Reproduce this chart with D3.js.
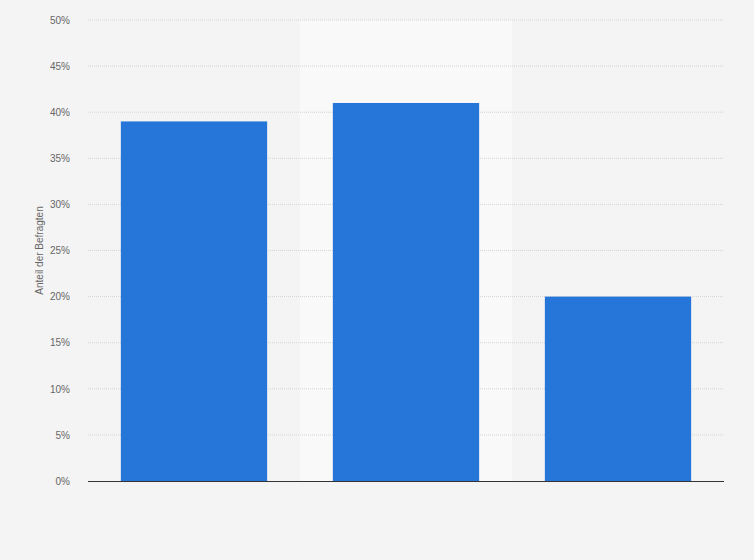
<!DOCTYPE html>
<html>
<head>
<meta charset="utf-8">
<script src="https://cdn.jsdelivr.net/npm/d3@7"></script>
<style>
  body { margin: 0; background: #f4f4f4; }
  svg { display: block; font-family: "Liberation Sans", Arial, sans-serif; }
  .tick text { fill: #666; font-size: 10px; }
</style>
</head>
<body>
<div id="chart"></div>
<script>
// data (no category labels visible)
const categories = ["A", "B", "C"];
const values = [39, 41, 20];
const yTicks = [0, 5, 10, 15, 20, 25, 30, 35, 40, 45, 50];
const highlighted = "B";

const W = 754, H = 560;
const margin = { top: 20, right: 30, bottom: 79, left: 88 };
const width = W - margin.left - margin.right;
const height = H - margin.top - margin.bottom;

const svg = d3.select("#chart").append("svg")
    .attr("width", W)
    .attr("height", H);

svg.append("rect").attr("width", W).attr("height", H).attr("fill", "#f4f4f4");

const g = svg.append("g")
    .attr("transform", `translate(${margin.left},${margin.top})`);

const x = d3.scaleBand()
    .domain(categories)
    .range([0, width])
    .paddingInner(0.31)
    .paddingOuter(0.155);

const y = d3.scaleLinear()
    .domain([0, 50])
    .range([height, 0]);

// highlighted column band
const step = x.step();
g.append("rect")
    .attr("x", x(highlighted) - x.paddingInner() * step / 2)
    .attr("y", 0)
    .attr("width", step)
    .attr("height", height)
    .attr("fill", "#f9f9f9");

// grid lines
g.append("g")
    .selectAll("line")
    .data(yTicks.filter(d => d > 0))
    .join("line")
    .attr("x1", 0)
    .attr("x2", width)
    .attr("y1", d => y(d))
    .attr("y2", d => y(d))
    .attr("stroke", "#d4d4d4")
    .attr("stroke-width", 1)
    .attr("stroke-dasharray", "1,1");

// bars
g.selectAll(".bar")
    .data(values)
    .join("rect")
    .attr("class", "bar")
    .attr("x", (d, i) => x(categories[i]))
    .attr("y", d => y(d))
    .attr("width", x.bandwidth())
    .attr("height", d => height - y(d))
    .attr("fill", "#2675d9");

// baseline
g.append("line")
    .attr("x1", 0)
    .attr("x2", width)
    .attr("y1", height + 0.5)
    .attr("y2", height + 0.5)
    .attr("stroke", "#333")
    .attr("stroke-width", 1);

// y axis
const yAxis = g.append("g")
    .attr("transform", "translate(-15,0)")
    .call(d3.axisLeft(y).tickValues(yTicks).tickFormat(d => d + "%").tickSize(0));
yAxis.select(".domain").remove();
yAxis.selectAll("text").attr("dy", "0.32em");

// y label
svg.append("text")
    .attr("transform", `translate(43,${margin.top + height / 2}) rotate(-90)`)
    .attr("text-anchor", "middle")
    .attr("fill", "#666")
    .style("font-size", "10px")
    .text("Anteil der Befragten");
</script>
</body>
</html>
